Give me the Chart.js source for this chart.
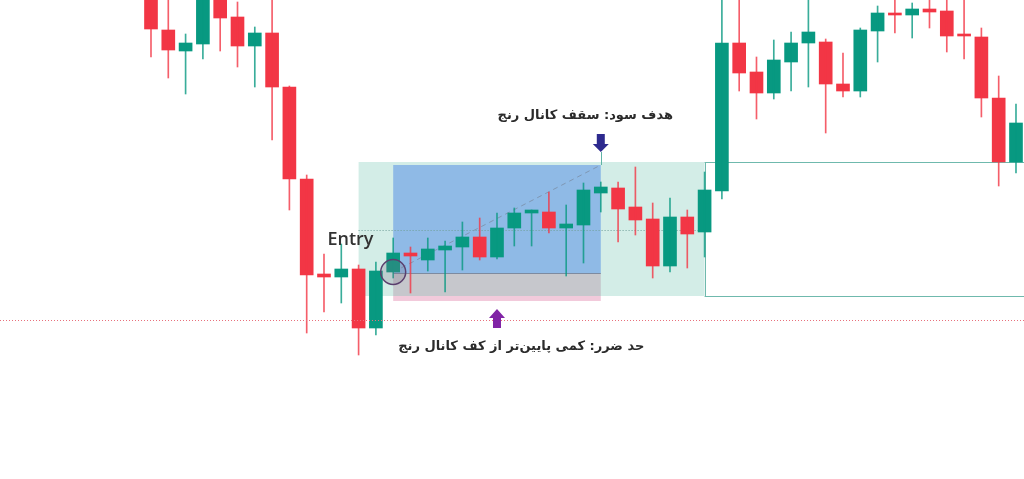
<!DOCTYPE html>
<html>
<head>
<meta charset="utf-8">
<script src="https://cdn.jsdelivr.net/npm/chart.js@4"></script>
<style>
    html, body { margin: 0; padding: 0; background: #fff; }
    #wrap { width: 1024px; height: 479px; }
</style>
</head>
<body>
<div id="wrap"><canvas id="chart" width="1024" height="479"></canvas></div>
<script>
// candle prices (one per bar, index 0..50)
const opens  = [510,470,449,456,515,483,454,467,413,321,226,223,231,172,228,247,240,250,253,263,243,272,287,288,272,275,307,312,293,281,234,283,268,309,457,428,407,438,457,458,416,409,469,487,485,491,489,466,463,402,338];
const closes = [471,450,457,510,482,454,467,413,321,225,223,231,172,229,247,244,251,254,263,243,272,287,290,272,276,310,313,291,280,234,283,266,310,457,427,407,440,457,468,416,409,470,487,485,491,488,464,464,402,338,377];
const highs  = [520,505,466,520,520,498,473,505,414,325,246,256,235,238,262,253,262,259,278,282,287,292,290,308,295,317,318,318,333,297,302,290,328,510,510,443,460,468,510,461,447,472,494,505,497,505,505,505,472,424,396];
const lows   = [443,422,406,441,449,433,413,360,290,167,188,197,145,165,222,207,229,208,230,240,241,254,254,267,224,237,288,258,265,222,228,232,243,301,409,381,401,409,413,367,403,403,438,467,462,472,448,441,383,314,327];

// trade setup levels
const rangeStart = 12, rangeEnd = 32;     // bar index of the range box
const rangeTop = 338, rangeBottom = 204;  // range channel
const rangeMid = 270;
const entryIndex = 14, targetIndex = 26;
const entryPrice = 228;
const targetPrice = 335;
const stopTop = 227, stopBottom = 199;
const stopLine = 180;
const stopArrowIndex = 20;

const labelTarget = "هدف سود: سقف کانال رنج";
const labelStop = "حد ضرر: کمی پایین‌تر از کف کانال رنج";
const labelEntry = "Entry";

const UP = "#089981", DOWN = "#f23645";
const candleColor = (i) => (closes[i] >= opens[i] ? UP : DOWN);

const idx = opens.map((_, i) => i);
const bodies = idx.map((i) => ({ x: i, y: [opens[i], closes[i]] }));
const wicks = idx.map((i) => ({ x: i, y: [lows[i], highs[i]] }));

const setupPlugin = {
    id: "setup",
    beforeDatasetsDraw(chart) {
        const { ctx, chartArea } = chart;
        const px = (v) => chart.scales.x.getPixelForValue(v);
        const py = (v) => chart.scales.y.getPixelForValue(v);
        ctx.save();

        // range box
        ctx.fillStyle = "#d3ede7";
        ctx.fillRect(px(rangeStart), py(rangeTop), px(rangeEnd) - px(rangeStart), py(rangeBottom) - py(rangeTop));

        // channel continued to the right
        ctx.strokeStyle = "#6fb9ad";
        ctx.lineWidth = 1;
        ctx.beginPath();
        ctx.moveTo(px(rangeEnd), Math.round(py(rangeTop)) + 0.5);
        ctx.lineTo(chartArea.right, Math.round(py(rangeTop)) + 0.5);
        ctx.moveTo(px(rangeEnd), Math.round(py(rangeBottom)) + 0.5);
        ctx.lineTo(chartArea.right, Math.round(py(rangeBottom)) + 0.5);
        ctx.moveTo(Math.round(px(rangeEnd)) + 0.5, py(rangeTop));
        ctx.lineTo(Math.round(px(rangeEnd)) + 0.5, py(rangeBottom));
        ctx.stroke();

        // target zone
        const x0 = px(entryIndex), x1 = px(targetIndex);
        ctx.fillStyle = "#8fbae6";
        ctx.fillRect(x0, py(targetPrice), x1 - x0, py(stopTop) - py(targetPrice));
        // stop zone
        ctx.fillStyle = "#c6c7cc";
        ctx.fillRect(x0, py(stopTop), x1 - x0, py(rangeBottom) - py(stopTop));
        ctx.fillStyle = "#f2cadb";
        ctx.fillRect(x0, py(rangeBottom), x1 - x0, py(stopBottom) - py(rangeBottom));

        ctx.strokeStyle = "#7d8ba0";
        ctx.beginPath();
        ctx.moveTo(x0, Math.round(py(stopTop)) + 0.5);
        ctx.lineTo(x1, Math.round(py(stopTop)) + 0.5);
        ctx.stroke();

        // range middle
        ctx.strokeStyle = "#6f9f98";
        ctx.setLineDash([1, 2]);
        ctx.beginPath();
        ctx.moveTo(px(rangeStart), Math.round(py(rangeMid)) + 0.5);
        ctx.lineTo(px(rangeEnd), Math.round(py(rangeMid)) + 0.5);
        ctx.stroke();

        // entry -> target path
        ctx.strokeStyle = "#7f97b3";
        ctx.setLineDash([5, 4]);
        ctx.beginPath();
        ctx.moveTo(x0, py(entryPrice));
        ctx.lineTo(x1, py(targetPrice));
        ctx.stroke();
        ctx.restore();
    },
    afterDatasetsDraw(chart) {
        const { ctx, chartArea } = chart;
        const px = (v) => chart.scales.x.getPixelForValue(v);
        const py = (v) => chart.scales.y.getPixelForValue(v);
        ctx.save();

        // stop level
        ctx.strokeStyle = "#e8707c";
        ctx.lineWidth = 1;
        ctx.setLineDash([1, 2]);
        ctx.beginPath();
        ctx.moveTo(chartArea.left, Math.round(py(stopLine)) + 0.5);
        ctx.lineTo(chartArea.right, Math.round(py(stopLine)) + 0.5);
        ctx.stroke();
        ctx.setLineDash([]);

        // entry circle
        ctx.beginPath();
        ctx.arc(px(entryIndex), py(entryPrice), 12.5, 0, Math.PI * 2);
        ctx.fillStyle = "rgba(120,110,130,0.25)";
        ctx.fill();
        ctx.strokeStyle = "#5a3f6e";
        ctx.lineWidth = 1.5;
        ctx.stroke();

        // target arrow
        const tx = px(targetIndex);
        const tipY = py(targetPrice) - 13;
        ctx.strokeStyle = "#5fb3a6";
        ctx.lineWidth = 1;
        ctx.beginPath();
        ctx.moveTo(Math.round(tx) + 0.5, py(targetPrice));
        ctx.lineTo(Math.round(tx) + 0.5, tipY);
        ctx.stroke();
        ctx.fillStyle = "#2d2a8e";
        ctx.beginPath();
        ctx.moveTo(tx, tipY);
        ctx.lineTo(tx - 8, tipY - 8);
        ctx.lineTo(tx - 4, tipY - 8);
        ctx.lineTo(tx - 4, tipY - 18);
        ctx.lineTo(tx + 4, tipY - 18);
        ctx.lineTo(tx + 4, tipY - 8);
        ctx.lineTo(tx + 8, tipY - 8);
        ctx.closePath();
        ctx.fill();

        // stop arrow
        const sx = px(stopArrowIndex);
        const sTip = py(stopBottom) + 8;
        ctx.fillStyle = "#8124a6";
        ctx.beginPath();
        ctx.moveTo(sx, sTip);
        ctx.lineTo(sx + 8, sTip + 9);
        ctx.lineTo(sx + 4, sTip + 9);
        ctx.lineTo(sx + 4, sTip + 19);
        ctx.lineTo(sx - 4, sTip + 19);
        ctx.lineTo(sx - 4, sTip + 9);
        ctx.lineTo(sx - 8, sTip + 9);
        ctx.closePath();
        ctx.fill();

        // labels
        ctx.fillStyle = "#2b2b2b";
        ctx.textBaseline = "alphabetic";
        ctx.direction = "rtl";
        ctx.font = "bold 13px 'DejaVu Sans'";
        ctx.textAlign = "center";
        ctx.fillText(labelTarget, px(25.1), py(targetPrice) - 46);
        ctx.fillText(labelStop, px(21.4), py(stopLine) + 30);

        ctx.direction = "ltr";
        ctx.textAlign = "left";
        ctx.fillStyle = "#333";
        ctx.font = "600 18px 'Open Sans'";
        ctx.fillText(labelEntry, px(10.2), py(entryPrice) - 27);
        ctx.restore();
    },
};

new Chart(document.getElementById("chart"), {
    type: "bar",
    data: {
        datasets: [
            {
                data: wicks,
                backgroundColor: idx.map((i) => candleColor(i) + "cc"),
                barThickness: 1,
                grouped: false,
                minBarLength: 1,
            },
            {
                data: bodies,
                backgroundColor: idx.map(candleColor),
                barThickness: 13,
                grouped: false,
                minBarLength: 1,
            },
        ],
    },
    options: {
        responsive: false,
        animation: false,
        layout: { padding: 0 },
        plugins: { legend: { display: false }, tooltip: { enabled: false } },
        scales: {
            x: { type: "linear", min: -8.728, max: 50.463, offset: false, display: false },
            y: { min: 21, max: 500, display: false },
        },
    },
    plugins: [setupPlugin],
});
</script>
</body>
</html>
